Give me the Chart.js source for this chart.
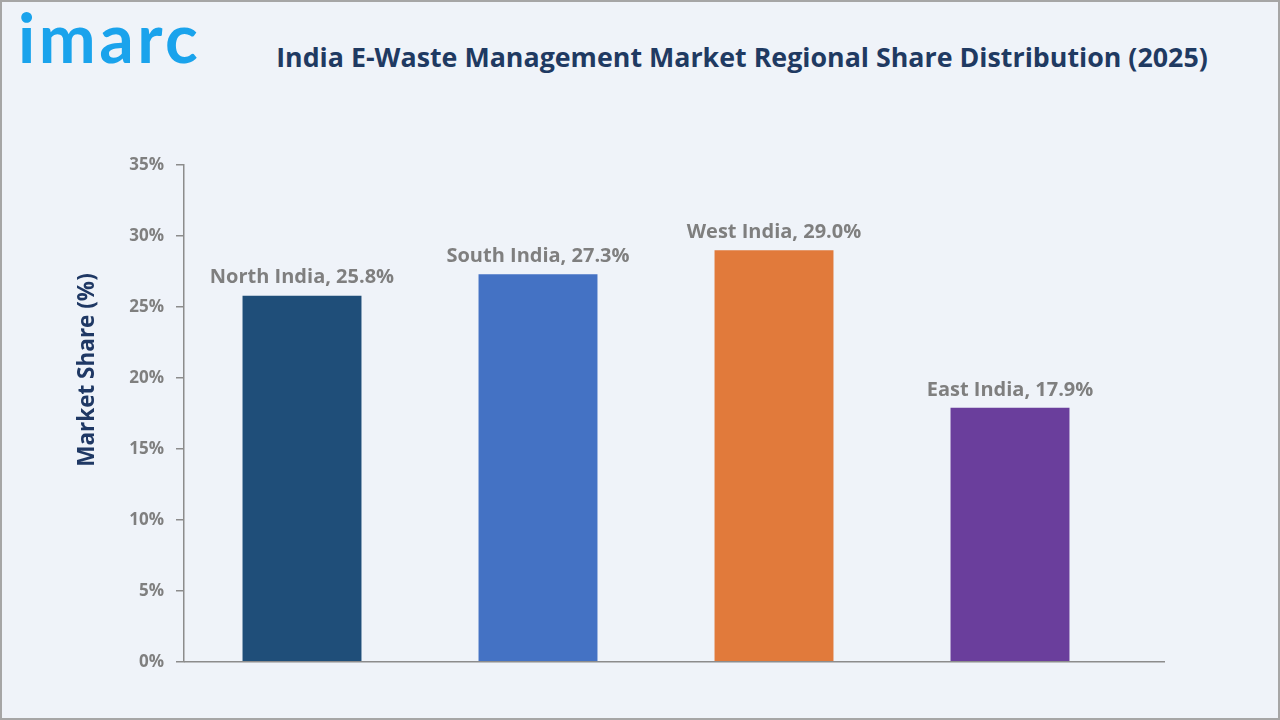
<!DOCTYPE html>
<html>
<head>
<meta charset="utf-8">
<script src="https://cdn.jsdelivr.net/npm/chart.js@4.4.0/dist/chart.umd.min.js"></script>
<style>
  html, body { margin: 0; padding: 0; }
  body { width: 1280px; height: 720px; overflow: hidden; background: #EFF3F9; position: relative; font-family: "Open Sans", "Noto Sans", sans-serif; }
  #frame { position: absolute; left: 0; top: 0; width: 1276px; height: 716px; border: 2px solid #A6A6A6; }
  #logo { position: absolute; left: 18px; top: -4px; font-family: "Lato", "Noto Sans", sans-serif; font-weight: 700; font-size: 68px; color: #1AA3EC; letter-spacing: 3.5px; }
  #title { position: absolute; left: 240px; top: 38px; width: 1004px; text-align: center; font-weight: 700; font-size: 26.8px; color: #1F3A62; white-space: nowrap; }
  #wrap { position: absolute; left: 0; top: 0; width: 1280px; height: 720px; }
</style>
</head>
<body>
<div id="frame"></div>
<div id="logo">imarc</div>
<div id="title">India E-Waste Management Market Regional Share Distribution (2025)</div>
<div id="wrap"><canvas id="c" width="1280" height="720"></canvas></div>
<script>
const categories = ["North India", "South India", "West India", "East India"];
const shares = [25.8, 27.3, 29.0, 17.9];
const barColors = ["#1F4E79", "#4472C4", "#E17A3B", "#6A3E9C"];
const yTicks = [0, 5, 10, 15, 20, 25, 30, 35];
const yTitle = "Market Share (%)";

const decorPlugin = {
  id: 'decor',
  afterDatasetsDraw(chart) {
    const ctx = chart.ctx;
    const meta = chart.getDatasetMeta(0);
    const area = chart.chartArea;
    ctx.save();
    // x axis line, extended past the last category
    const lw = 1.5;
    const y0 = Math.round(chart.scales.y.getPixelForValue(0) - lw / 2) + lw / 2;
    ctx.strokeStyle = '#8C8C8C';
    ctx.lineWidth = lw;
    ctx.beginPath();
    ctx.moveTo(area.left, y0);
    ctx.lineTo(1165, y0);
    ctx.stroke();
    // bar labels
    ctx.font = '700 20px "Open Sans", "Noto Sans", sans-serif';
    ctx.fillStyle = '#7F7F7F';
    ctx.textAlign = 'center';
    ctx.textBaseline = 'bottom';
    meta.data.forEach((bar, i) => {
      ctx.fillText(categories[i] + ', ' + shares[i].toFixed(1) + '%', bar.x, bar.y - 8);
    });
    // y axis title
    ctx.translate(88, 370);
    ctx.rotate(-Math.PI / 2);
    ctx.font = '700 22.5px "Open Sans", "Noto Sans", sans-serif';
    ctx.fillStyle = '#1F3864';
    ctx.textBaseline = 'middle';
    ctx.fillText(yTitle, 0, 0);
    ctx.restore();
  }
};

new Chart(document.getElementById('c'), {
  type: 'bar',
  data: {
    labels: categories,
    datasets: [{
      data: shares,
      backgroundColor: barColors,
      borderWidth: 0,
      barPercentage: 0.8,
      categoryPercentage: 0.63
    }]
  },
  options: {
    responsive: false,
    animation: false,
    devicePixelRatio: 1,
    layout: { padding: { top: 165, right: 152, bottom: 50, left: 0 } },
    plugins: { legend: { display: false }, tooltip: { enabled: false }, title: { display: false } },
    scales: {
      x: {
        ticks: { display: false },
        grid: { display: false },
        border: { display: false }
      },
      y: {
        min: 0, max: 35,
        afterFit(scale) { scale.width = 184; },
        afterBuildTicks(scale) { scale.ticks = yTicks.map(v => ({ value: v })); },
        ticks: {
          padding: 12,
          color: '#7F7F7F',
          font: { family: '"Open Sans", "Noto Sans", sans-serif', size: 17, weight: '700' },
          callback: v => v + '%'
        },
        grid: { drawOnChartArea: false, drawTicks: true, tickLength: 8, color: '#8C8C8C', lineWidth: 1.5 },
        border: { display: true, color: '#8C8C8C', width: 1.5 }
      }
    }
  },
  plugins: [decorPlugin]
});
</script>
</body>
</html>
